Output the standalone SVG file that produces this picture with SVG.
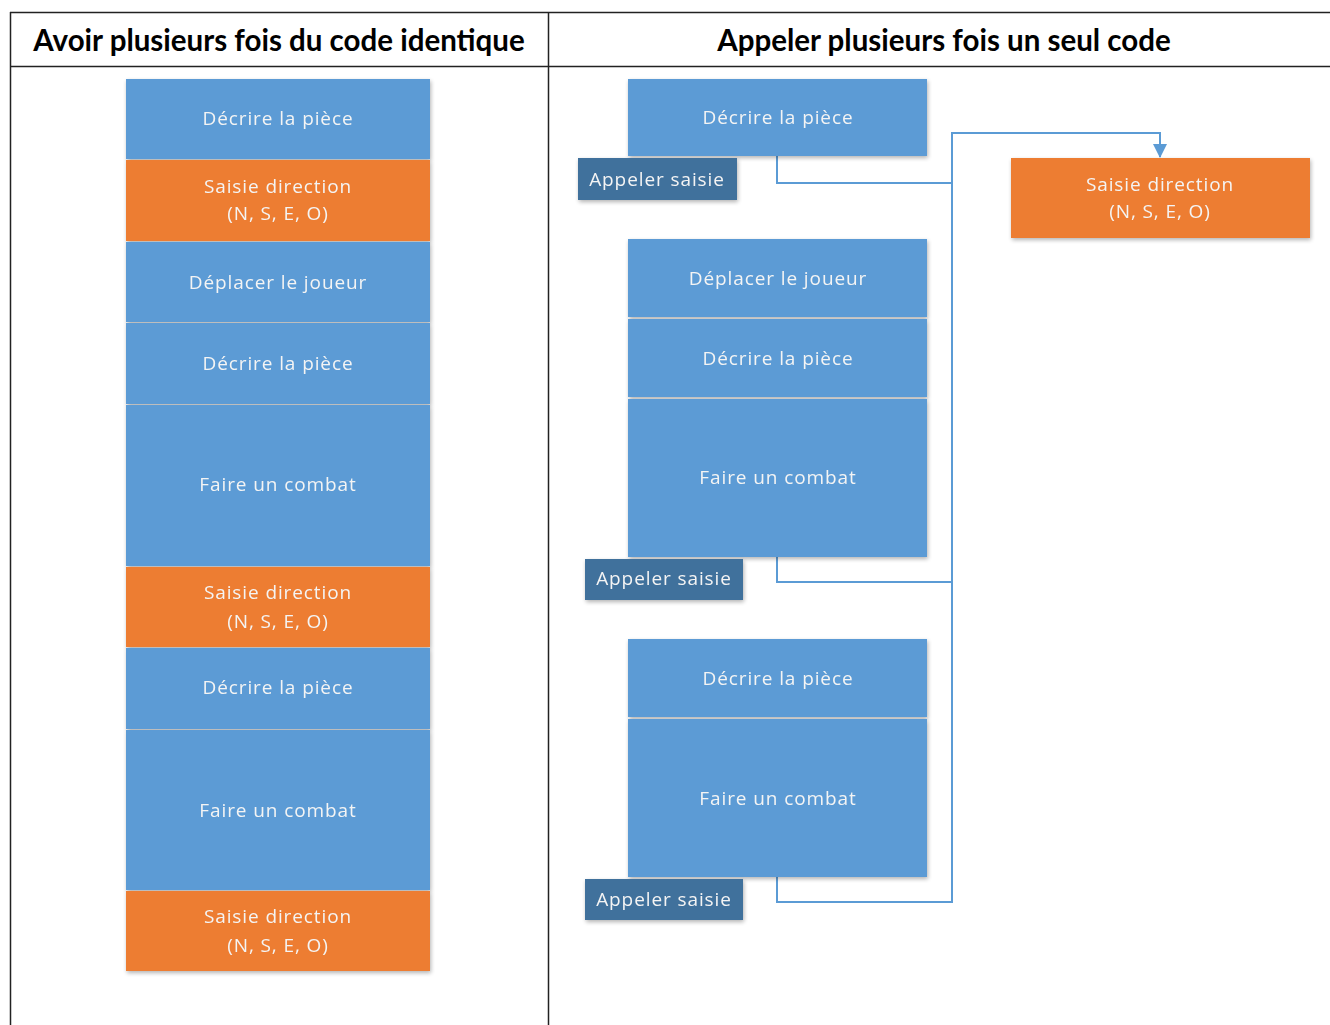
<svg xmlns="http://www.w3.org/2000/svg" width="1330" height="1025" viewBox="0 0 1330 1025">
<defs>
<style>
.hdr{font-family:Lato,"Open Sans","Liberation Sans",sans-serif;font-weight:bold;font-size:29.5px;fill:#000;text-anchor:middle}
.t{font-family:"Open Sans","Liberation Sans",sans-serif;font-size:19px;fill:#f4f4f4;text-anchor:middle;letter-spacing:0.9px}
.blue{fill:#5b9bd5}
.org{fill:#ed7d31}
.dk{fill:#41719c}
.grid{stroke:#222;stroke-width:1.5;fill:none}
.conn{stroke:#5b9bd5;stroke-width:2;fill:none}
</style>
<filter id="sh" x="-5%" y="-10%" width="112%" height="130%">
<feGaussianBlur in="SourceAlpha" stdDeviation="2"/>
<feOffset dx="1" dy="2" result="b"/>
<feComponentTransfer><feFuncA type="linear" slope="0.3"/></feComponentTransfer>
<feMerge><feMergeNode/><feMergeNode in="SourceGraphic"/></feMerge>
</filter>
<marker id="arr" markerWidth="14" markerHeight="14" refX="13" refY="7" orient="auto" markerUnits="userSpaceOnUse">
<path d="M0,0 L14,7 L0,14 z" fill="#5b9bd5"/>
</marker>
</defs>
<rect width="1330" height="1025" fill="#fff"/>
<g id="table">
<path class="grid" d="M10,12.5 H1330 M10,66.5 H1330 M10.5,12 V1025 M548.5,12 V1025"/>
<text class="hdr" x="279" y="51">Avoir plusieurs fois du code identique</text>
<text class="hdr" x="944" y="51">Appeler plusieurs fois un seul code</text>
</g>
<g id="left-stack" filter="url(#sh)">
<g id="l1"><rect class="blue" x="126" y="79" width="304" height="80"/><text class="t" x="278" y="125">Décrire la pièce</text></g>
<g id="l2"><rect class="org" x="126" y="160" width="304" height="81"/><text class="t" x="278" y="193">Saisie direction</text><text class="t" x="278" y="220">(N, S, E, O)</text></g>
<g id="l3"><rect class="blue" x="126" y="242" width="304" height="80"/><text class="t" x="278" y="289">Déplacer le joueur</text></g>
<g id="l4"><rect class="blue" x="126" y="323" width="304" height="81"/><text class="t" x="278" y="370">Décrire la pièce</text></g>
<g id="l5"><rect class="blue" x="126" y="405" width="304" height="161"/><text class="t" x="278" y="491">Faire un combat</text></g>
<g id="l6"><rect class="org" x="126" y="567" width="304" height="80"/><text class="t" x="278" y="599">Saisie direction</text><text class="t" x="278" y="628">(N, S, E, O)</text></g>
<g id="l7"><rect class="blue" x="126" y="648" width="304" height="81"/><text class="t" x="278" y="694">Décrire la pièce</text></g>
<g id="l8"><rect class="blue" x="126" y="730" width="304" height="160"/><text class="t" x="278" y="817">Faire un combat</text></g>
<g id="l9"><rect class="org" x="126" y="891" width="304" height="80"/><text class="t" x="278" y="923">Saisie direction</text><text class="t" x="278" y="952">(N, S, E, O)</text></g>
</g>
<g id="connectors">
<path class="conn" d="M777,156 V183 H952"/>
<path class="conn" d="M777,557 V582 H952"/>
<path class="conn" d="M777,877 V902 H952 V133 H1160 V157" marker-end="url(#arr)"/>
</g>
<g id="r1" filter="url(#sh)"><rect class="blue" x="628" y="79" width="299" height="77"/><text class="t" x="778" y="124">Décrire la pièce</text></g>
<g id="call1" filter="url(#sh)"><rect class="dk" x="578" y="158" width="159" height="42"/><text class="t" x="657" y="186">Appeler saisie</text></g>
<g id="saisie" filter="url(#sh)"><rect class="org" x="1011" y="158" width="299" height="80"/><text class="t" x="1160" y="191">Saisie direction</text><text class="t" x="1160" y="218">(N, S, E, O)</text></g>
<g id="r-group2" filter="url(#sh)">
<g id="r2"><rect class="blue" x="628" y="239" width="299" height="78"/><text class="t" x="778" y="285">Déplacer le joueur</text></g>
<g id="r3"><rect class="blue" x="628" y="319" width="299" height="78"/><text class="t" x="778" y="365">Décrire la pièce</text></g>
<g id="r4"><rect class="blue" x="628" y="399" width="299" height="158"/><text class="t" x="778" y="484">Faire un combat</text></g>
</g>
<g id="call2" filter="url(#sh)"><rect class="dk" x="585" y="559" width="158" height="41"/><text class="t" x="664" y="585">Appeler saisie</text></g>
<g id="r-group3" filter="url(#sh)">
<g id="r5"><rect class="blue" x="628" y="639" width="299" height="78"/><text class="t" x="778" y="685">Décrire la pièce</text></g>
<g id="r6"><rect class="blue" x="628" y="719" width="299" height="158"/><text class="t" x="778" y="805">Faire un combat</text></g>
</g>
<g id="call3" filter="url(#sh)"><rect class="dk" x="585" y="879" width="158" height="41"/><text class="t" x="664" y="906">Appeler saisie</text></g>
</svg>
